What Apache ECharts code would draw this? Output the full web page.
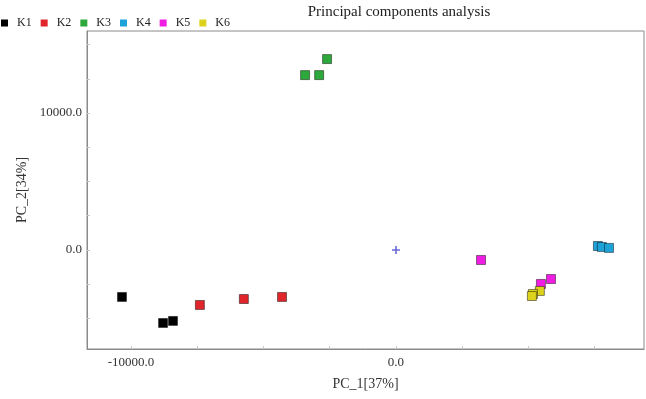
<!DOCTYPE html>
<html>
<head>
<meta charset="utf-8">
<script src="https://cdn.jsdelivr.net/npm/echarts@6/dist/echarts.min.js"></script>
<style>
  html, body { margin: 0; padding: 0; background: #fff; }
  #pca { width: 646px; height: 399px; }
</style>
</head>
<body>
<div id="pca"></div>
<script>
// ---- data (PC_1, PC_2 scores) ----
var groups = ['K1', 'K2', 'K3', 'K4', 'K5', 'K6'];
var K1 = [[-10340, -3430], [-8790, -5330], [-8415, -5180]];
var K2 = [[-7400, -4015], [-5740, -3580], [-4300, -3430]];
var K3 = [[-3430, 12770], [-2900, 12770], [-2600, 13940]];
var K4 = [[7620, 290], [7770, 220], [8040, 150]];
var K5 = [[3210, -730], [5850, -2120], [5470, -2480]];
var K6 = [[5430, -2990], [5170, -3210], [5130, -3360]];
var xLabelValues = [-10000, 0];
var yLabelValues = [0, 10000];
var xTickValues = [-10000, -7500, -5000, -2500, 0, 2500, 5000, 7500];
var yTickValues = [-5000, -2500, 0, 2500, 5000, 7500, 10000, 12500, 15000];

function renderPca() {
    var dom = document.getElementById('pca');
    var myChart = echarts.init(dom);
    var option;

    var serif = '"Liberation Serif", "DejaVu Serif", serif';
    var colors = ['#000000', '#e0262b', '#2da83a', '#1ea3d9', '#f01de3', '#dcd21c'];
    var groupData = [K1, K2, K3, K4, K5, K6];

    var series = groups.map(function (name, i) {
        return {
            name: name,
            type: 'scatter',
            symbol: 'rect',
            symbolSize: 9,
            itemStyle: {
                color: colors[i],
                opacity: 1,
                borderColor: 'rgba(0,0,0,0.45)',
                borderWidth: 1
            },
            data: groupData[i]
        };
    });
    // origin marker
    series.push({
        name: 'origin',
        type: 'scatter',
        symbol: 'path://M4,0 L6,0 L6,4 L10,4 L10,6 L6,6 L6,10 L4,10 L4,6 L0,6 L0,4 L4,4 Z',
        symbolSize: 8,
        itemStyle: { color: '#6a6ad8', opacity: 1 },
        silent: true,
        data: [[0, 0]]
    });

    var axisCommon = {
        type: 'value',
        splitLine: { show: false },
        axisLine: { show: true, onZero: false, lineStyle: { color: '#8a8a8a', width: 1 } },
        axisTick: { show: true, inside: true, length: 3, lineStyle: { color: '#c8c8c8' } },
        nameTextStyle: { fontFamily: serif, fontSize: 14, color: '#333' }
    };

    option = {
        animation: false,
        textStyle: { fontFamily: serif },
        title: {
            text: 'Principal components analysis',
            left: 394,
            textAlign: 'center',
            top: 0,
            textStyle: { fontFamily: serif, fontSize: 15, fontWeight: 'normal', color: '#222' }
        },
        legend: {
            data: groups,
            left: 0,
            top: 12,
            padding: [5, 5, 5, 1],
            itemWidth: 7,
            itemHeight: 7,
            itemGap: 9,
            icon: 'rect',
            itemStyle: { borderWidth: 0 },
            textStyle: { fontFamily: serif, fontSize: 12, color: '#222', padding: [0, 0, 0, 4] }
        },
        grid: {
            left: 87,
            right: 2,
            top: 31,
            bottom: 50,
            show: true,
            borderColor: '#8a8a8a',
            borderWidth: 1
        },
        xAxis: Object.assign({}, axisCommon, {
            min: -11660,
            max: 9360,
            name: 'PC_1[37%]',
            nameLocation: 'middle',
            nameGap: 28,
            axisLabel: {
                customValues: xLabelValues,
                fontFamily: serif,
                fontSize: 13,
                color: '#333',
                margin: 7,
                formatter: function (v) { return v.toFixed(1); }
            },
            axisTick: Object.assign({}, axisCommon.axisTick, { customValues: xTickValues })
        }),
        yAxis: Object.assign({}, axisCommon, {
            min: -7230,
            max: 15990,
            name: 'PC_2[34%]',
            nameLocation: 'middle',
            nameGap: 55,
            axisLabel: {
                customValues: yLabelValues,
                fontFamily: serif,
                fontSize: 13,
                color: '#333',
                margin: 5,
                formatter: function (v) { return v.toFixed(1); }
            },
            axisTick: Object.assign({}, axisCommon.axisTick, { customValues: yTickValues })
        }),
        series: series
    };

    if (option && typeof option === 'object') {
        myChart.setOption(option);
    }
}
renderPca();
</script>
</body>
</html>
